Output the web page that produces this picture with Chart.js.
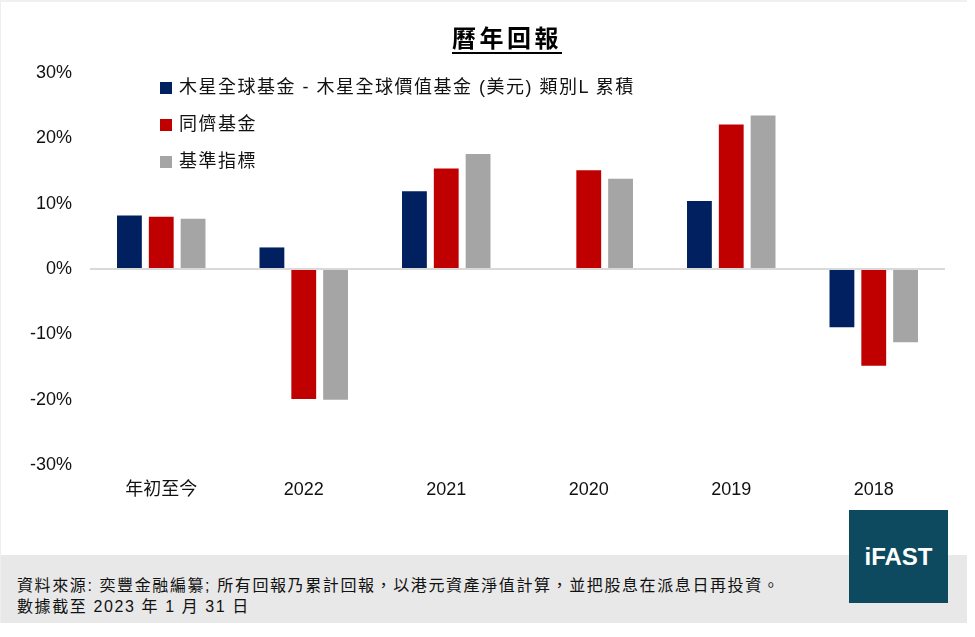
<!DOCTYPE html>
<html>
<head>
<meta charset="utf-8">
<script src="https://cdn.jsdelivr.net/npm/chart.js@4.4.0/dist/chart.umd.min.js"></script>
<style>
  body { margin: 0; background: #fff; font-family: "Liberation Sans", "Noto Sans CJK TC", sans-serif; }
  #wrap { position: relative; width: 967px; height: 623px; border-left: 1px solid #eee; border-top: 2px solid #f0f0f0; box-sizing: border-box; }
  #title { position: absolute; left: 0; width: 1012px; top: 17px; text-align: center; font-size: 24px; font-weight: bold; letter-spacing: 3.5px; text-decoration: underline; text-underline-offset: 5px; font-family: "Noto Sans CJK TC", sans-serif; }
  #legend { position: absolute; left: 159px; top: 70px; }
  .item { height: 37px; font-size: 18px; letter-spacing: 1.5px; color: #111; font-family: "Liberation Sans", "Noto Sans CJK TC", sans-serif; white-space: nowrap; }
  .item span.box { display: inline-block; width: 12px; height: 12px; margin-right: 7px; vertical-align: -1px; }
  #foot { position: absolute; left: 0; top: 553px; width: 966px; height: 68px; background: #e8e8e8; }
  #foot div { position: absolute; left: 16px; font-size: 16px; letter-spacing: 1.6px; color: #111; white-space: nowrap; font-family: "Liberation Sans", "Noto Sans CJK TC", sans-serif; }
  #logo { position: absolute; left: 848px; top: 508px; width: 99px; height: 93px; background: #0d4a5f; color: #fff; font-weight: bold; font-size: 24px; text-align: center; line-height: 93px; font-family: "Liberation Sans", sans-serif; }
  canvas { position: absolute; left: 0; top: 0; }
</style>
</head>
<body>
<div id="wrap">
  <canvas id="returns" width="975" height="520"></canvas>
  <div id="title">曆年回報</div>
  <div id="legend"></div>
  <div id="foot">
    <div style="top:17px">資料來源: 奕豐金融編纂; 所有回報乃累計回報，以港元資產淨值計算，並把股息在派息日再投資。</div>
    <div style="top:38px">數據截至 2023 年 1 月 31 日</div>
  </div>
  <div id="logo">iFAST</div>
</div>
<script>
var categories = ['年初至今', '2022', '2021', '2020', '2019', '2018'];
var seriesNames = ['木星全球基金 - 木星全球價值基金 (美元) 類別L 累積', '同儕基金', '基準指標'];
var fundReturns = [8.2, 3.3, 11.9, null, 10.4, -8.9];
var peerReturns = [8.0, -19.9, 15.4, 15.1, 22.1, -14.8];
var benchReturns = [7.7, -20.0, 17.6, 13.8, 23.5, -11.2];
var yTicks = [-30, -20, -10, 0, 10, 20, 30];
var colours = ['#002060', '#c00000', '#a5a5a5'];

var allSeries = [fundReturns, peerReturns, benchReturns];
var datasets = [];
for (var i = 0; i < allSeries.length; i++) {
  datasets.push({
    label: seriesNames[i],
    data: allSeries[i],
    backgroundColor: colours[i],
    categoryPercentage: 0.67,
    barPercentage: 0.78
  });
}

// legend sits inside the plot, like the original
var legend = document.getElementById('legend');
datasets.forEach(function(ds){
  var row = document.createElement('div');
  row.className = 'item';
  row.innerHTML = '<span class="box" style="background:' + ds.backgroundColor + '"></span>' + ds.label;
  legend.appendChild(row);
});

var ctx = document.getElementById('returns');
var chart = new Chart(ctx, {
  type: 'bar',
  data: { labels: categories, datasets: datasets },
  options: {
    responsive: false,
    animation: false,
    layout: { padding: { top: 71, right: 31, bottom: 17, left: 0 } },
    plugins: { legend: { display: false }, tooltip: { enabled: false } },
    scales: {
      x: {
        grid: { display: false, drawTicks: false },
        border: { display: false },
        ticks: { color: '#111', padding: 14, font: { size: 18, family: '"Liberation Sans", "Noto Sans CJK TC", sans-serif' } },
        afterFit: function(s){ s.height = 40; }
      },
      y: {
        min: -30, max: 30,
        afterBuildTicks: function(s){ s.ticks = yTicks.map(function(v){ return { value: v }; }); },
        grid: {
          drawTicks: false,
          color: function(c){ return c.tick && c.tick.value === 0 ? '#d9d9d9' : 'rgba(0,0,0,0)'; },
          lineWidth: 2
        },
        border: { display: false },
        ticks: {
          color: '#111', padding: 18,
          font: { size: 18, family: '"Liberation Sans", sans-serif' },
          callback: function(v){ return v + '%'; }
        },
        afterFit: function(s){ s.width = 89; }
      }
    }
  }
});
</script>
</body>
</html>
